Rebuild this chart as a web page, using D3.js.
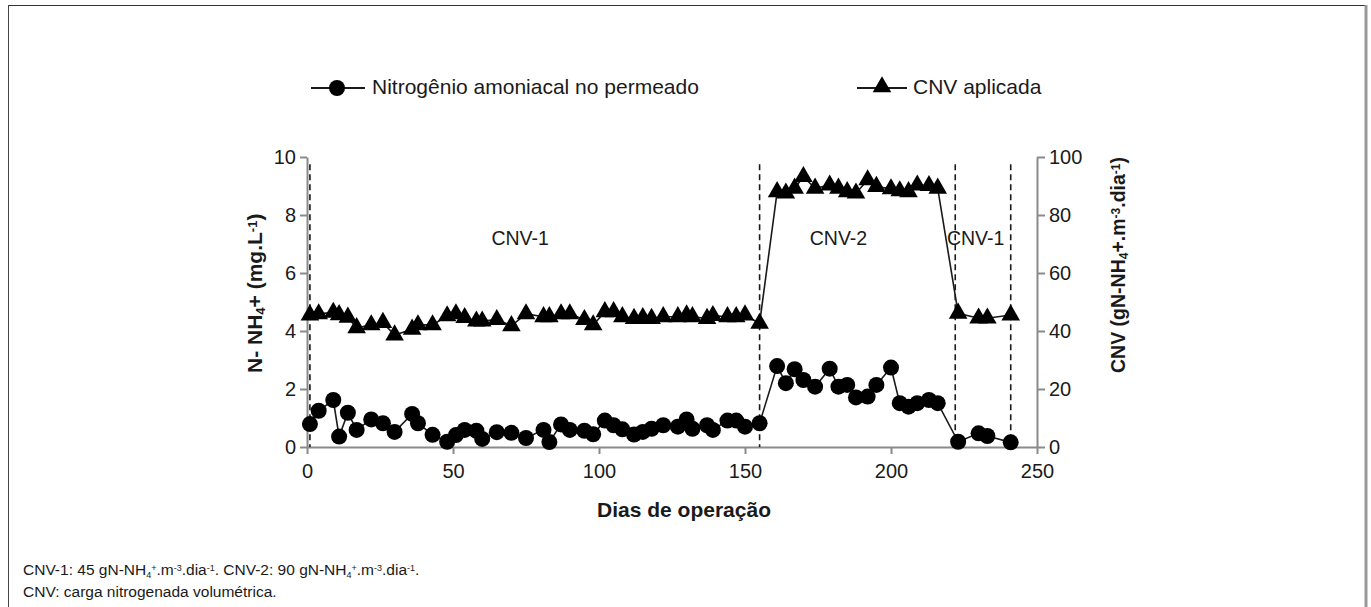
<!DOCTYPE html>
<html>
<head>
<script src="https://d3js.org/d3.v7.min.js"></script>
<style>
  body { margin: 0; background: #fff; }
  svg { display: block; font-family: "Liberation Sans", Arial, sans-serif; }
</style>
</head>
<body>
<svg id="chart" width="1371" height="607"></svg>
<script>
// operation days (shared by both series)
const days = [1,4,9,11,14,17,22,26,30,36,38,43,48,51,54,58,60,65,70,75,81,83,87,90,95,98,102,105,108,112,115,118,122,127,130,132,137,139,144,147,150,155,
  161,164,167,170,174,179,182,185,188,192,195,200,203,206,209,213,216,223,230,233,241];
// N-NH4+ in permeate (mg/L), left axis
const nitrogen = [0.79,1.25,1.62,0.36,1.18,0.59,0.95,0.82,0.52,1.14,0.82,0.42,0.18,0.41,0.59,0.56,0.28,0.51,0.49,0.31,0.59,0.17,0.78,0.59,0.56,0.44,0.91,0.75,0.61,0.43,0.52,0.63,0.75,0.70,0.95,0.63,0.75,0.59,0.91,0.91,0.70,0.82,
  2.79,2.20,2.68,2.31,2.08,2.70,2.08,2.14,1.71,1.74,2.14,2.74,1.51,1.39,1.51,1.62,1.51,0.18,0.47,0.38,0.16];
// applied CNV (gN-NH4+/m3.dia), right axis
const cnv = [45.5,45.9,46.4,45.6,44.7,41.1,42.1,42.9,38.6,40.6,42.1,42.1,45.2,45.9,44.6,43.4,43.4,43.9,41.8,45.9,44.9,44.9,45.9,45.9,43.9,42.1,46.6,46.6,44.9,44.3,44.6,44.3,44.9,44.9,45.5,44.9,44.3,45.3,44.9,44.9,45.5,42.6,
  88.0,87.5,89.2,93.2,89.2,90.3,89.2,88.0,87.5,92.1,89.8,89.0,88.3,88.0,90.3,90.1,89.2,46.1,44.4,44.4,45.5];
const phaseDays = [1, 155, 222, 241];
const phaseNames = ["CNV-1", "CNV-2", "CNV-1"];
const phaseNameDays = [73, 182, 229];
const xTicks = [0, 50, 100, 150, 200, 250];
const yLeftTicks = [0, 2, 4, 6, 8, 10];
const yRightTicks = [0, 20, 40, 60, 80, 100];

const svg = d3.select("#chart");
const ink = "#1a1a1a", axisGray = "#8a8a8a";

// frame
svg.append("line").attr("x1", 8).attr("x2", 1366).attr("y1", 5.5).attr("y2", 5.5).attr("stroke", "#333").attr("stroke-width", 1);
svg.append("line").attr("x1", 8.5).attr("x2", 8.5).attr("y1", 5).attr("y2", 607).attr("stroke", "#444").attr("stroke-width", 1);
svg.append("line").attr("x1", 1366).attr("x2", 1366).attr("y1", 5).attr("y2", 607).attr("stroke", "#999").attr("stroke-width", 3);

const x = d3.scaleLinear().domain([0, 250]).range([307, 1037]);
const yL = d3.scaleLinear().domain([0, 10]).range([447, 157]);
const yR = d3.scaleLinear().domain([0, 100]).range([447, 157]);

function styleAxis(g) {
  g.select(".domain").attr("stroke", axisGray).attr("stroke-width", 2);
  g.selectAll(".tick line").attr("stroke", axisGray).attr("stroke-width", 2);
  g.selectAll(".tick text").attr("fill", ink).style("font-size", "20px");
}

svg.append("g").attr("transform", "translate(0,447)")
  .call(d3.axisBottom(x).tickValues(xTicks).tickSize(7).tickSizeOuter(0).tickPadding(10))
  .call(styleAxis);
svg.append("g").attr("transform", "translate(307,0)")
  .call(d3.axisLeft(yL).tickValues(yLeftTicks).tickSize(7).tickSizeOuter(0).tickPadding(4))
  .call(styleAxis);
svg.append("g").attr("transform", "translate(1037,0)")
  .call(d3.axisRight(yR).tickValues(yRightTicks).tickSize(8).tickSizeOuter(0).tickPadding(4))
  .call(styleAxis);

// phase separators
svg.append("g").selectAll("line").data(phaseDays).join("line")
  .attr("x1", d => x(d)).attr("x2", d => x(d))
  .attr("y1", yL(9.75)).attr("y2", yL(0))
  .attr("stroke", ink).attr("stroke-width", 1.6).attr("stroke-dasharray", "6,4");

svg.append("g").selectAll("text").data(phaseNames).join("text")
  .attr("x", (d, i) => x(phaseNameDays[i])).attr("y", yL(7.14))
  .attr("text-anchor", "middle").attr("dominant-baseline", "middle")
  .attr("fill", ink).style("font-size", "19.5px").text(d => d);

const pts = days.map((d, i) => ({ day: d, n: nitrogen[i], c: cnv[i] }));

const lineN = d3.line().x(d => x(d.day)).y(d => yL(d.n));
const lineC = d3.line().x(d => x(d.day)).y(d => yR(d.c));
svg.append("path").datum(pts).attr("d", lineC).attr("fill", "none").attr("stroke", ink).attr("stroke-width", 1.6);
svg.append("path").datum(pts).attr("d", lineN).attr("fill", "none").attr("stroke", ink).attr("stroke-width", 1.6);

const tri = d3.symbol().type(d3.symbolTriangle).size(150);
svg.append("g").selectAll("path").data(pts).join("path")
  .attr("d", tri).attr("transform", d => `translate(${x(d.day)},${yR(d.c)})`).attr("fill", "#000");
svg.append("g").selectAll("circle").data(pts).join("circle")
  .attr("cx", d => x(d.day)).attr("cy", d => yL(d.n)).attr("r", 8).attr("fill", "#000");

// legend
const leg = svg.append("g");
leg.append("line").attr("x1", 311).attr("x2", 365).attr("y1", 88).attr("y2", 88).attr("stroke", ink).attr("stroke-width", 2);
leg.append("circle").attr("cx", 337).attr("cy", 88).attr("r", 8).attr("fill", "#000");
leg.append("text").attr("x", 372).attr("y", 88).attr("dominant-baseline", "middle").attr("fill", ink)
  .style("font-size", "21px").text("Nitrogênio amoniacal no permeado");
leg.append("line").attr("x1", 857).attr("x2", 907).attr("y1", 88).attr("y2", 88).attr("stroke", ink).attr("stroke-width", 2);
leg.append("path").attr("d", tri).attr("transform", "translate(882,87)").attr("fill", "#000");
leg.append("text").attr("x", 913).attr("y", 88).attr("dominant-baseline", "middle").attr("fill", ink)
  .style("font-size", "21px").text("CNV aplicada");

// axis titles
svg.append("text").attr("x", 684).attr("y", 517).attr("text-anchor", "middle")
  .attr("fill", ink).style("font-size", "21px").style("font-weight", "bold").text("Dias de operação");

function richTitle(sel, parts, small) {
  parts.forEach(p => {
    const t = sel.append("tspan").text(p[0]);
    if (p[1] === "sub") t.attr("baseline-shift", "-25%").style("font-size", small);
    if (p[1] === "sup") t.attr("baseline-shift", "40%").style("font-size", small);
  });
}
const tl = svg.append("text").attr("transform", "translate(262,373) rotate(-90)")
  .attr("fill", ink).style("font-size", "21px").style("font-weight", "bold");
richTitle(tl, [["N- NH"], ["4", "sub"], ["+ (mg.L"], ["-1", "sup"], [")"]], "13px");
const tr = svg.append("text").attr("transform", "translate(1125,373) rotate(-90)")
  .attr("fill", ink).style("font-size", "19.5px").style("font-weight", "bold");
richTitle(tr, [["CNV (gN-NH"], ["4", "sub"], ["+.m"], ["-3", "sup"], [".dia"], ["-1", "sup"], [")"]], "12px");

// footnote
function noteLine(y, parts) {
  const t = svg.append("text").attr("x", 23).attr("y", y).attr("fill", ink).style("font-size", "15.5px");
  parts.forEach(p => {
    const s = t.append("tspan").text(p[0]);
    if (p[1] === "sub") s.attr("baseline-shift", "-30%").style("font-size", "9px");
    if (p[1] === "sup") s.attr("baseline-shift", "45%").style("font-size", "9px");
  });
}
noteLine(575, [["CNV-1: 45 gN-NH"], ["4", "sub"], ["+", "sup"], [".m"], ["-3", "sup"], [".dia"], ["-1", "sup"],
  [". CNV-2: 90 gN-NH"], ["4", "sub"], ["+", "sup"], [".m"], ["-3", "sup"], [".dia"], ["-1", "sup"], ["."]]);
noteLine(597, [["CNV: carga nitrogenada volumétrica."]]);
</script>
</body>
</html>
